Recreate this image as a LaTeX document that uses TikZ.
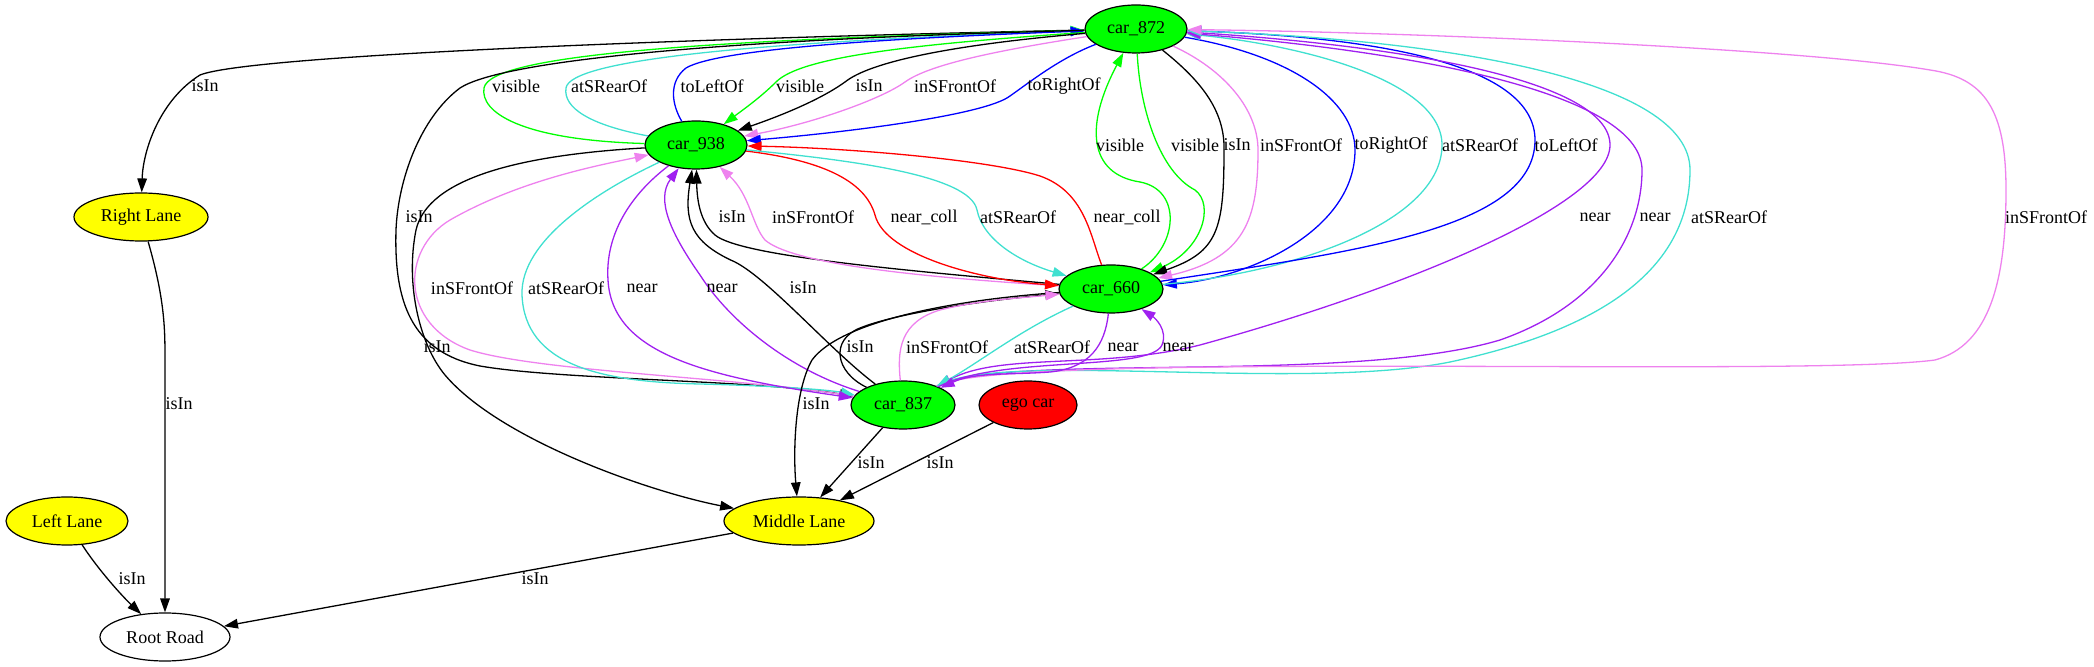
\documentclass[tikz,border=0pt]{standalone}
\usepackage{fontspec}
\setmainfont{Liberation Serif}
\usetikzlibrary{arrows.meta,shapes.geometric,positioning}
\definecolor{gvgreen}{HTML}{00FF00}
\definecolor{gvred}{HTML}{FF0000}
\definecolor{gvyellow}{HTML}{FFFF00}
\definecolor{gvblue}{HTML}{0000FF}
\definecolor{gvturq}{HTML}{40E0D0}
\definecolor{gvviolet}{HTML}{EE82EE}
\definecolor{gvpurple}{HTML}{A020F0}
\tikzset{%
	carnode/.style  = {draw, ellipse, line width=0.6pt, fill=gvgreen, inner sep=0pt, minimum width=51pt, minimum height=24pt},
	egonode/.style  = {carnode, fill=gvred}, % ego vehicle
	lanenode/.style = {draw, ellipse, line width=0.6pt, fill=gvyellow, inner sep=0pt, minimum height=24pt},
	roadnode/.style = {draw, ellipse, line width=0.6pt, fill=white, inner sep=0pt, minimum height=24pt},
	rel/.style      = {line width=0.65pt, -{Triangle[length=7pt,width=4.8pt]}},
	lbl/.style      = {inner sep=0pt},
}
\begin{document}
\begin{tikzpicture}[x=0.5pt, y=-0.5pt, font=\fontsize{9}{10}\selectfont]
	\useasboundingbox (0,0) rectangle (2094,667);
	% nodes
	\node[carnode] (c872) at (1136,29) {car\_872};
	\node[carnode] (c938) at (696,145) {car\_938};
	\node[carnode, minimum width=52pt] (c660) at (1111,289) {car\_660};
	\node[carnode, minimum width=52pt] (c837) at (903,405) {car\_837};
	\node[egonode, minimum width=49pt] (ego) at (1028,405) {ego car};
	\node[lanenode, minimum width=75pt] (mid) at (799,521) {Middle Lane};
	\node[lanenode, minimum width=67pt] (right) at (141,217) {Right Lane};
	\node[lanenode, minimum width=61pt] (left) at (67,521) {Left Lane};
	\node[roadnode, minimum width=65pt] (root) at (165,637) {Root Road};
	% car_872 and car_938
	\draw[rel] (c872) .. controls (700,38) and (250,55) .. (200,75) .. controls (160,100) and (143,150) .. (right) node[lbl] (t1) at (205,86) {isIn};
	\draw[rel, gvgreen] (c938) .. controls (520,140) and (480,112) .. (484,88) .. controls (490,55) and (700,40) .. (c872) node[lbl, black] (t2) at (516,86) {visible};
	\draw[rel, gvturq] (c938) .. controls (590,125) and (563,108) .. (566,88) .. controls (570,60) and (750,42) .. (c872) node[lbl, black] (t3) at (609,86) {atSRearOf};
	\draw[rel, gvblue] (c938) .. controls (672,105) and (668,82) .. (686,68) .. controls (720,48) and (900,38) .. (c872) node[lbl, black] (t4) at (712,86) {toLeftOf};
	\draw[rel, gvgreen] (c872) .. controls (900,45) and (800,58) .. (776,82) .. controls (760,98) and (740,112) .. (c938) node[lbl, black] (t5) at (800,86) {visible};
	\draw[rel] (c872) .. controls (950,45) and (870,62) .. (845,82) .. controls (820,100) and (780,116) .. (c938) node[lbl] (t6) at (869,86) {isIn};
	\draw[rel, gvviolet] (c872) .. controls (1000,50) and (930,64) .. (905,82) .. controls (880,100) and (810,124) .. (c938) node[lbl, black] (t7) at (955,86) {inSFrontOf};
	\draw[rel, gvblue] (c872) .. controls (1060,58) and (1030,82) .. (1010,96) .. controls (985,115) and (850,132) .. (c938) node[lbl, black] (t8) at (1064,86) {toRightOf};
	% long edges on the left
	\draw[rel] (c872) .. controls (700,40) and (500,62) .. (460,88) .. controls (420,118) and (398,180) .. (396,230) .. controls (394,300) and (410,352) .. (480,366) .. controls (560,380) and (760,380) .. (c837) node[lbl] (t9) at (419,217) {isIn};
	\draw[rel] (c938) .. controls (520,155) and (428,178) .. (416,230) .. controls (405,285) and (420,345) .. (445,375) .. controls (500,440) and (650,492) .. (mid) node[lbl] (t10) at (437,347) {isIn};
	% car_872 and car_660
	\draw[rel, gvgreen] (c660) .. controls (1178,245) and (1182,190) .. (1140,182) .. controls (1088,174) and (1085,125) .. (c872) node[lbl, black] (t11) at (1120,145) {visible};
	\draw[rel, gvgreen] (c872) .. controls (1140,110) and (1160,172) .. (1195,190) .. controls (1215,205) and (1202,250) .. (c660) node[lbl, black] (t12) at (1195,145) {visible};
	\draw[rel] (c872) .. controls (1200,80) and (1225,110) .. (1224,150) .. controls (1224,230) and (1218,252) .. (c660) node[lbl] (t13) at (1237,145) {isIn};
	\draw[rel, gvviolet] (c872) .. controls (1225,70) and (1258,110) .. (1258,150) .. controls (1258,220) and (1245,258) .. (c660) node[lbl, black] (t14) at (1301,145) {inSFrontOf};
	\draw[rel, gvblue] (c872) .. controls (1290,55) and (1355,100) .. (1355,150) .. controls (1355,230) and (1250,278) .. (c660) node[lbl, black] (t15) at (1391,145) {toRightOf};
	\draw[rel, gvturq] (c660) .. controls (1300,272) and (1442,220) .. (1442,145) .. controls (1442,80) and (1300,45) .. (c872) node[lbl, black] (t16) at (1480,145) {atSRearOf};
	\draw[rel, gvblue] (c660) .. controls (1350,252) and (1535,230) .. (1535,140) .. controls (1535,70) and (1400,38) .. (c872) node[lbl, black] (t17) at (1566,145) {toLeftOf};
	% car_872 and car_837
	\draw[rel, gvpurple] (c872) .. controls (1400,45) and (1610,80) .. (1610,145) .. controls (1610,205) and (1400,290) .. (1200,345) .. controls (1100,370) and (1000,352) .. (c837) node[lbl, black] (t18) at (1595,217) {near};
	\draw[rel, gvpurple] (c837) .. controls (1000,352) and (1350,385) .. (1500,340) .. controls (1600,305) and (1642,235) .. (1642,170) .. controls (1642,100) and (1450,55) .. (c872) node[lbl, black] (t19) at (1655,217) {near};
	\draw[rel, gvturq] (c837) .. controls (1000,350) and (1300,392) .. (1450,362) .. controls (1600,330) and (1690,270) .. (1690,170) .. controls (1690,80) and (1450,40) .. (c872) node[lbl, black] (t20) at (1729,217) {atSRearOf};
	\draw[rel, gvviolet] (c837) .. controls (1000,350) and (1800,378) .. (1935,360) .. controls (1990,345) and (2006,280) .. (2006,190) .. controls (2006,110) and (1985,78) .. (1930,70) .. controls (1800,48) and (1400,32) .. (c872) node[lbl, black] (t21) at (2046,217) {inSFrontOf};
	% car_938 and car_660
	\draw[rel] (c660) .. controls (900,270) and (740,256) .. (715,235) .. controls (700,222) and (697,200) .. (c938) node[lbl] (t22) at (732,217) {isIn};
	\draw[rel, gvviolet] (c660) .. controls (900,276) and (790,262) .. (765,240) .. controls (752,225) and (750,195) .. (c938) node[lbl, black] (t24) at (813,217) {inSFrontOf};
	\draw[rel, gvred] (c938) .. controls (820,160) and (865,180) .. (875,215) .. controls (885,255) and (980,280) .. (c660) node[lbl, black] (t25) at (924,217) {near\_coll};
	\draw[rel, gvred] (c660) .. controls (1090,235) and (1085,192) .. (1040,176) .. controls (990,160) and (850,148) .. (c938) node[lbl, black] (t26) at (1127,217) {near\_coll};
	\draw[rel, gvturq] (c938) .. controls (850,160) and (970,175) .. (977,210) .. controls (983,240) and (1020,262) .. (c660) node[lbl, black] (t27) at (1018,217) {atSRearOf};
	% car_938 and car_837
	\draw[rel] (c837) .. controls (830,350) and (770,280) .. (735,262) .. controls (690,242) and (684,220) .. (c938) node[lbl] (t23) at (803,288) {isIn};
	\draw[rel, gvviolet] (c837) .. controls (750,378) and (540,372) .. (470,350) .. controls (400,325) and (400,250) .. (450,220) .. controls (520,180) and (600,165) .. (c938) node[lbl, black] (t28) at (472,288) {inSFrontOf};
	\draw[rel, gvturq] (c938) .. controls (600,190) and (520,240) .. (522,295) .. controls (525,365) and (600,382) .. (700,384) .. controls (780,386) and (830,390) .. (c837) node[lbl, black] (t29) at (566,288) {atSRearOf};
	\draw[rel, gvpurple] (c938) .. controls (630,195) and (605,235) .. (608,280) .. controls (612,352) and (700,376) .. (c837) node[lbl, black] (t30) at (642,288) {near};
	\draw[rel, gvpurple] (c837) .. controls (790,370) and (730,322) .. (700,275) .. controls (672,235) and (655,200) .. (c938) node[lbl, black] (t31) at (722,288) {near};
	% car_660 and car_837
	\draw[rel] (c660) .. controls (950,300) and (840,322) .. (812,360) .. controls (795,390) and (793,450) .. (mid) node[lbl] (t32) at (816,404) {isIn};
	\draw[rel] (c837) .. controls (835,372) and (830,340) .. (860,328) .. controls (900,312) and (990,300) .. (c660) node[lbl] (t33) at (860,347) {isIn};
	\draw[rel, gvviolet] (c837) .. controls (897,350) and (900,322) .. (940,310) .. controls (980,300) and (1020,298) .. (c660) node[lbl, black] (t34) at (947,347) {inSFrontOf};
	\draw[rel, gvturq] (c660) .. controls (1020,330) and (980,362) .. (c837) node[lbl, black] (t35) at (1052,347) {atSRearOf};
	\draw[rel, gvpurple] (c660) .. controls (1105,345) and (1090,368) .. (1050,372) .. controls (1010,375) and (975,372) .. (c837) node[lbl, black] (t36) at (1123,347) {near};
	\draw[rel, gvpurple] (c837) .. controls (1000,355) and (1150,372) .. (1162,345) .. controls (1168,330) and (1155,318) .. (c660) node[lbl, black] (t37) at (1178,347) {near};
	% lanes and road
	\draw[rel] (c837) -- (mid) node[lbl] (t38) at (871,463) {isIn};
	\draw[rel] (ego) -- (mid) node[lbl] (t39) at (940,463) {isIn};
	\draw[rel] (mid) -- (root) node[lbl] (t40) at (535,579) {isIn};
	\draw[rel] (right) .. controls (165,300) and (165,330) .. (165,360) -- (root) node[lbl] (t41) at (179,404) {isIn};
	\draw[rel] (left) .. controls (95,565) and (118,592) .. (root) node[lbl] (t42) at (132,579) {isIn};
\end{tikzpicture}
\end{document}
